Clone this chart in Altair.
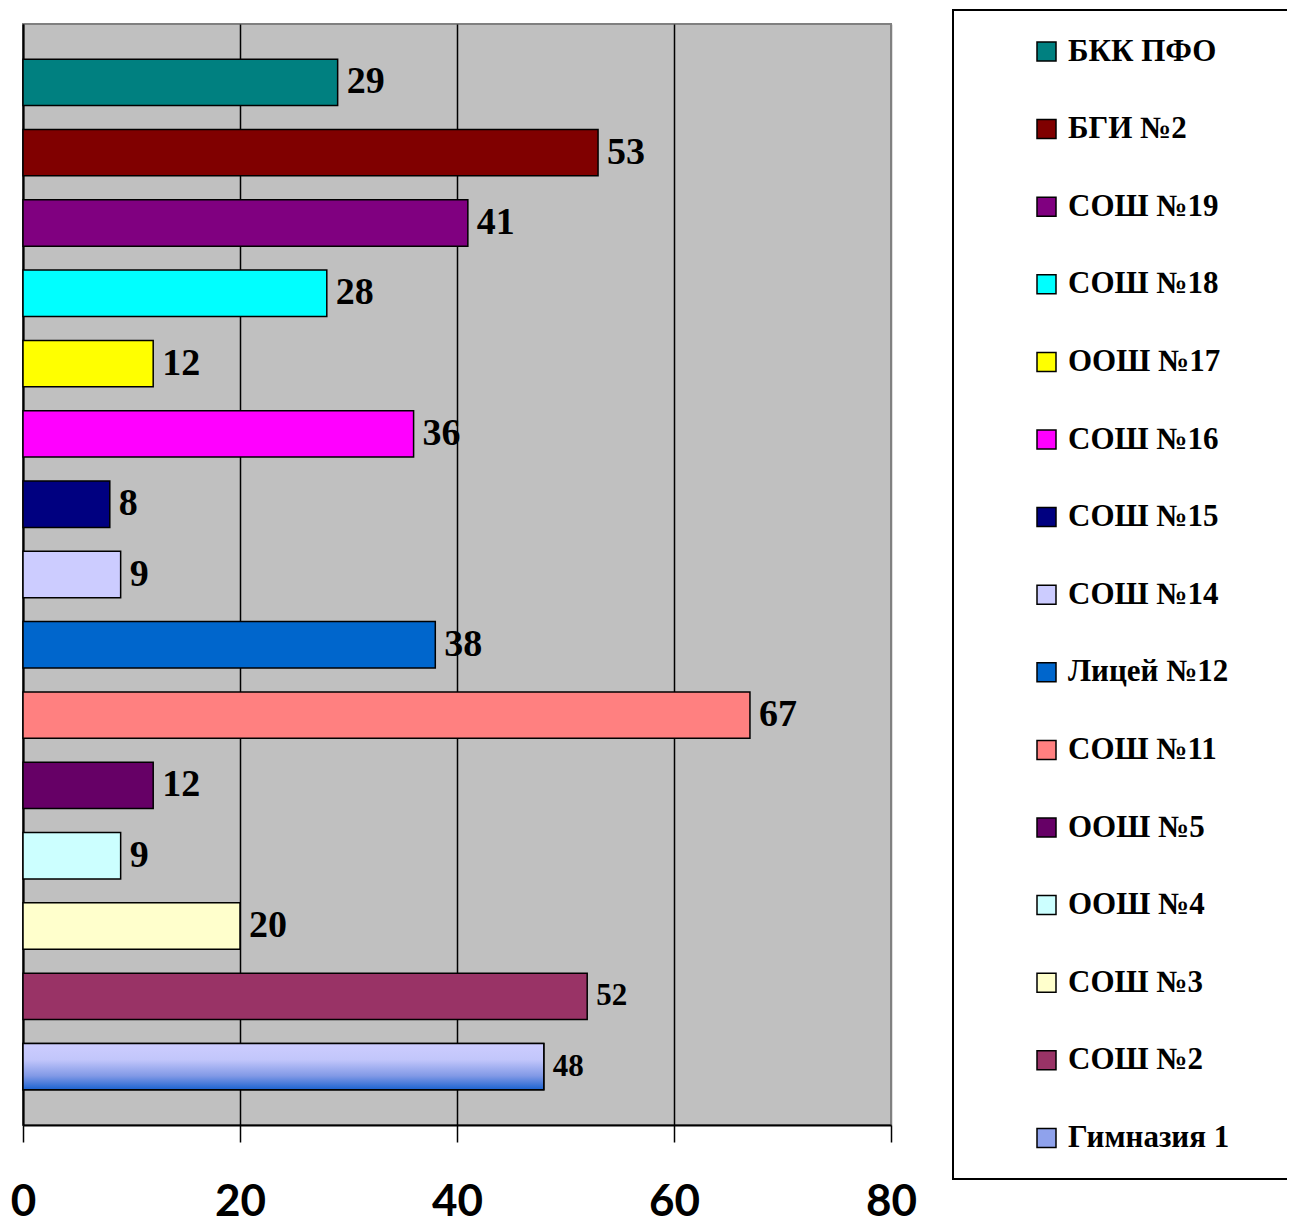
import altair as alt
import pandas as pd

categories = ["БКК ПФО", "БГИ №2", "СОШ №19", "СОШ №18", "ООШ №17", "СОШ №16",
              "СОШ №15", "СОШ №14", "Лицей №12", "СОШ №11", "ООШ №5", "ООШ №4",
              "СОШ №3", "СОШ №2", "Гимназия 1"]
values = [29, 53, 41, 28, 12, 36, 8, 9, 38, 67, 12, 9, 20, 52, 48]
colors = ["#008080", "#800000", "#800080", "#00ffff", "#ffff00", "#ff00ff",
          "#000080", "#ccccff", "#0066cc", "#ff8080", "#660066", "#ccffff",
          "#ffffcc", "#993366", "#8fa2ec"]
x_ticks = [0, 20, 40, 60, 80]
small_label_cats = ["СОШ №2", "Гимназия 1"]
gradient_cat = "Гимназия 1"

df = pd.DataFrame({"cat": categories, "val": values})

grad = alt.LinearGradient(
    gradient="linear", x1=0, y1=0, x2=0, y2=1,
    stops=[alt.GradientStop(offset=0, color="#cdcdff"),
           alt.GradientStop(offset=0.35, color="#c2c6fb"),
           alt.GradientStop(offset=0.7, color="#8199e6"),
           alt.GradientStop(offset=1, color="#1a62d0")])

serif = "Liberation Serif"

y_enc = alt.Y("cat:N", sort=categories,
              scale=alt.Scale(paddingInner=0.34, paddingOuter=0.5),
              axis=alt.Axis(labels=False, ticks=False, title=None, domain=True,
                            domainColor="black", domainWidth=2, minExtent=0,
                            maxExtent=0, grid=False))
x_enc = alt.X("val:Q", scale=alt.Scale(domain=[0, 80], nice=False),
              axis=alt.Axis(values=x_ticks, title=None,
                            grid=True,
                            gridColor={"condition": {"test": "datum.value == 80", "value": "#808080"}, "value": "black"},
                            gridWidth=1.5,
                            domainColor="black", domainWidth=2,
                            tickColor="black", tickWidth=1.5, tickSize=17,
                            labelFont="Lato", labelFontSize=44,
                            labelFontWeight="bold", labelColor="black",
                            labelPadding=38, labelFlush=False))

legend = alt.Legend(
    orient="none", legendX=930, legendY=-14, direction="vertical",
    title="W", titleOrient="right", titleColor="transparent",
    titleFontSize=30, titlePadding=22,
    strokeColor="black", fillColor="white", padding=26,
    symbolType="square", symbolSize=361, symbolStrokeColor="black",
    symbolStrokeWidth=1.5, symbolOffset=52, symbolOpacity=1,
    labelFont=serif, labelFontSize=31, labelFontWeight="bold",
    labelColor="black", labelOffset=6, labelLimit=400,
    rowPadding=45.6)

color_scale = alt.Scale(domain=categories, range=colors)

base = alt.Chart(df)

bars = base.mark_bar(stroke="black", strokeWidth=1.5, opacity=1).encode(
    x=x_enc, y=y_enc,
    color=alt.Color("cat:N", scale=color_scale, legend=legend))

grad_bar = base.transform_filter(alt.datum.cat == gradient_cat).mark_bar(
    fill=grad, stroke="black", strokeWidth=1.5).encode(x="val:Q", y=alt.Y("cat:N", sort=categories))

labels = base.mark_text(align="left", baseline="middle", dx=9, font=serif,
                        fontWeight="bold", color="black").encode(
    x="val:Q", y=alt.Y("cat:N", sort=categories), text="val:Q",
    size=alt.condition(alt.FieldOneOfPredicate(field="cat", oneOf=small_label_cats),
                       alt.value(31), alt.value(38)))

chart = alt.layer(bars, grad_bar, labels).properties(
    width=868, height=1101,
    view=alt.ViewBackground(fill="#c0c0c0", stroke="#808080", strokeWidth=2),
    autosize=alt.AutoSizeParams(type="none"),
    padding={"left": 15, "top": 16, "right": 396, "bottom": 115}
).configure(background="white").configure_legend(strokeWidth=2)

chart.save("out.html", embed_options={"renderer": "svg", "actions": False})
